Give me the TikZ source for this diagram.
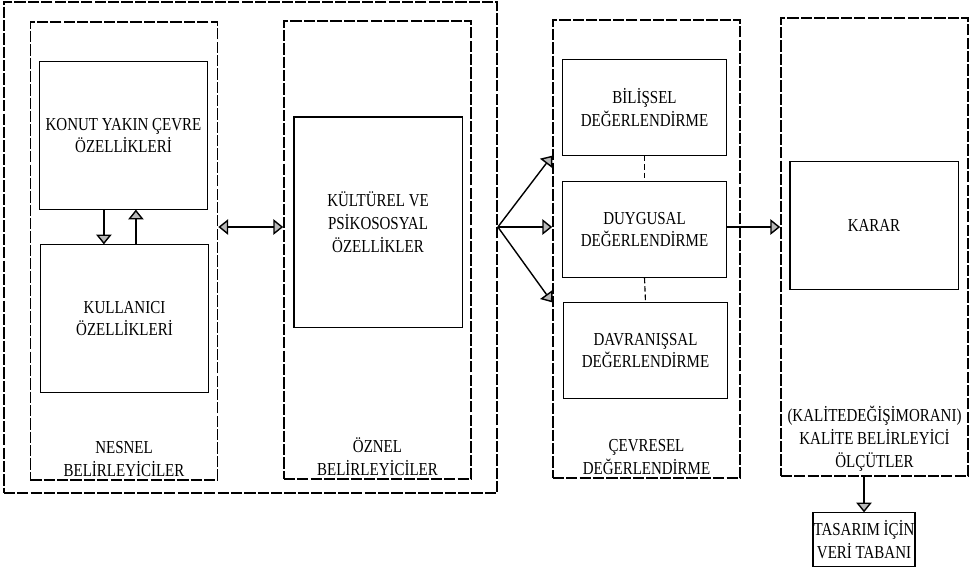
\documentclass[tikz,border=0pt]{standalone}
\usepackage{fontspec}
\setmainfont{Liberation Serif}[FakeStretch=0.82]
\usetikzlibrary{positioning,arrows.meta,calc}

\begin{document}
\begin{tikzpicture}[x=0.025cm,y=-0.025cm,font=\fontsize{13}{16.3}\selectfont,
  >={Triangle[fill=gray!55,length=7pt,width=11pt]},
  grp/.style={draw,line width=1pt,dash pattern=on 8pt off 1.5pt,minimum width=4.68cm,minimum height=11.45cm,inner sep=0pt},
  box/.style={draw,line width=0.75pt,align=center,inner sep=0pt},
  lbl/.style={align=center,inner sep=0pt},
  link/.style={->,line width=1pt},
  tie/.style={line width=0.8pt,dash pattern=on 4pt off 2pt}]
  \useasboundingbox (0,0) rectangle (972,567);
  % dashed groups
  \node[grp,minimum width=12.33cm,minimum height=12.28cm] (outer) at (250.5,247.5) {};
  \foreach \name/\cx/\cy in {nesnel/124/251,oznel/377.5/250,cevre/646.5/249,kalite/874.5/247}
    \node[grp] (\name) at (\cx,\cy) {};
  % boxes
  \node[box,minimum width=4.22cm,minimum height=3.68cm] (konut) at (123.5,135.5) {KONUT YAKIN ÇEVRE\\ÖZELLİKLERİ};
  \node[box,minimum width=4.22cm,minimum height=3.68cm] (kullanici) at (124.5,318.5) {KULLANICI\\ÖZELLİKLERİ};
  \node[box,minimum width=4.2cm,minimum height=5.25cm] (kultur) at (378,222) {KÜLTÜREL VE\\PSİKOSOSYAL\\ÖZELLİKLER};
  \node[box,minimum width=4.12cm,minimum height=2.38cm] (bilis) at (644.5,107.5) {BİLİŞSEL\\DEĞERLENDİRME};
  \node[box,minimum width=4.12cm,minimum height=2.38cm] (duygu) at (644.5,229.5) {DUYGUSAL\\DEĞERLENDİRME};
  \node[box,minimum width=4.08cm,minimum height=2.38cm] (davran) at (645.5,350.5) {DAVRANIŞSAL\\DEĞERLENDİRME};
  \node[box,minimum width=4.2cm,minimum height=3.18cm] (karar) at (874,225.5) {KARAR};
  \node[box,minimum width=2.55cm,minimum height=1.33cm] (tasarim) at (864,539.5) {TASARIM İÇİN\\VERİ TABANI};
  % group labels
  \node[lbl,above=0.1cm] (nesnelLbl) at (nesnel.south) {NESNEL\\BELİRLEYİCİLER};
  \node[lbl,above=0.1cm] (oznelLbl) at (oznel.south) {ÖZNEL\\BELİRLEYİCİLER};
  \node[lbl,above=0.1cm] (cevreLbl) at (cevre.south) {ÇEVRESEL\\DEĞERLENDİRME};
  \node[lbl,above=0.12cm] (kaliteLbl) at (kalite.south) {(KALİTEDEĞİŞİMORANI)\\KALİTE BELİRLEYİCİ\\ÖLÇÜTLER};
  % connectors
  \coordinate (axis) at (0,227);
  \coordinate (fan) at (outer.east |- axis);
  \draw[link] ([xshift=-0.49cm]konut.south) -- ([xshift=-0.49cm]konut.south |- kullanici.north);
  \draw[link] ([xshift=0.31cm]konut.south |- kullanici.north) -- ([xshift=0.31cm]konut.south);
  \draw[link,<->] (nesnel.east |- axis) -- (oznel.west |- axis);
  \draw[link] (fan) -- (cevre.west |- bilis.south);
  \draw[link] (fan) -- (cevre.west |- axis);
  \draw[link] (fan) -- (cevre.west |- davran.north);
  \draw[tie] (bilis.south) -- (duygu.north);
  \draw[tie] (duygu.south) -- (davran.north);
  \draw[link] (duygu.east |- axis) -- (kalite.west |- axis);
  \draw[link] (tasarim.north |- kalite.south) -- (tasarim.north);
\end{tikzpicture}
\end{document}
